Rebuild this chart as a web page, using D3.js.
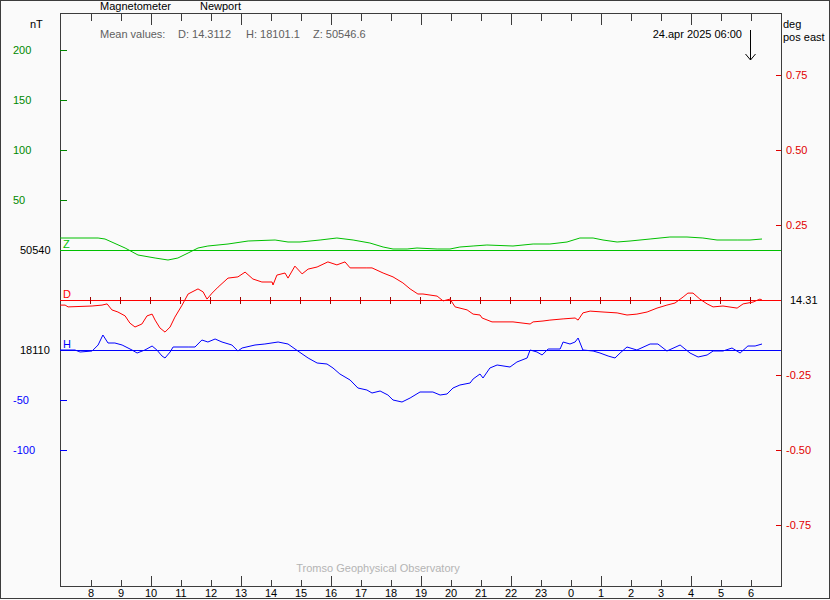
<!DOCTYPE html>
<html><head><meta charset="utf-8">
<script src="https://cdn.jsdelivr.net/npm/d3@7"></script>
<style>
html,body{margin:0;padding:0;background:#fafafa;}
svg{display:block;font-family:"Liberation Sans",Arial,sans-serif;font-size:11px;}
</style></head>
<body>
<svg id="chart" width="830" height="600"></svg>
<script>
// ---- data (hours since 00:00 on day 1; values > 24 are next day) ----
const hourTicks = [8,9,10,11,12,13,14,15,16,17,18,19,20,21,22,23,24,25,26,27,28,29,30];
const hourLabels = ["8","9","10","11","12","13","14","15","16","17","18","19","20","21","22","23","0","1","2","3","4","5","6"];
const longTickHours = [10,13,16,19,22,25,28];

const zBase = 50540, hBase = 18110, dBase = 14.31;
const nTTicksZ = [50, 100, 150, 200];
const nTTicksH = [-50, -100];
const degTicks = [0.75, 0.50, 0.25, -0.25, -0.50, -0.75];
const degLabels = ["0.75","0.50","0.25","-0.25","-0.50","-0.75"];

const zTimes = [7.0,8.27,8.5,9.17,9.6,10.17,10.6,10.93,11.27,11.6,11.93,12.6,13.27,14.17,14.6,15.0,15.67,16.23,16.77,17.33,17.77,18.1,18.57,18.9,19.57,20.0,20.33,20.77,21.23,22.1,22.77,23.33,23.9,24.33,24.77,25.1,25.57,26.0,26.67,27.33,27.9,28.43,28.9,29.57,30.0,30.4];
const zValues = [50552,50552,50551,50542,50535,50532,50530,50532,50537,50542,50544,50546,50549,50550,50548,50548,50550,50552,50550,50547,50543,50541,50541,50542,50541,50541,50543,50544,50545,50544,50546,50546,50548,50552,50552,50550,50548,50549,50551,50553,50553,50552,50550,50550,50550,50551];

const dTimes = [7.0,7.17,7.27,8.07,8.4,8.57,8.73,8.93,9.17,9.33,9.5,9.73,9.9,10.07,10.17,10.33,10.5,10.67,10.83,11.07,11.27,11.6,11.77,11.9,12.07,12.27,12.6,12.93,13.17,13.43,13.73,14.07,14.1,14.23,14.5,14.6,14.83,15.07,15.27,15.57,15.93,16.23,16.5,16.67,17.23,17.4,17.77,18.1,18.43,18.67,18.93,19.1,19.57,19.77,20.0,20.17,20.57,20.77,21.0,21.07,21.4,22.1,22.67,22.77,23.1,23.33,23.77,24.17,24.27,24.43,24.67,25.1,25.57,25.9,26.23,26.57,26.9,27.23,27.5,27.77,27.93,28.1,28.33,28.57,28.77,29.1,29.57,29.77,30.1,30.33,30.4];
const dValues = [14.293,14.293,14.287,14.290,14.293,14.297,14.277,14.270,14.257,14.233,14.220,14.230,14.257,14.263,14.243,14.217,14.203,14.220,14.253,14.293,14.330,14.347,14.337,14.313,14.333,14.353,14.383,14.387,14.403,14.380,14.370,14.370,14.360,14.393,14.400,14.383,14.423,14.397,14.413,14.420,14.437,14.427,14.437,14.417,14.417,14.417,14.400,14.387,14.367,14.347,14.330,14.330,14.323,14.307,14.313,14.287,14.277,14.263,14.260,14.250,14.237,14.237,14.230,14.237,14.240,14.243,14.247,14.250,14.243,14.267,14.273,14.270,14.267,14.260,14.263,14.270,14.283,14.293,14.300,14.320,14.333,14.333,14.313,14.297,14.287,14.290,14.283,14.297,14.303,14.313,14.310];

const hTimes = [7.0,7.5,7.67,8.07,8.27,8.43,8.6,8.83,9.07,9.4,9.57,9.83,10.07,10.23,10.4,10.5,10.67,10.77,11.27,11.5,11.73,11.93,12.17,12.4,12.73,12.93,13.07,13.5,13.83,14.27,14.6,14.93,15.27,15.57,15.9,16.1,16.33,16.67,16.93,17.23,17.4,17.67,17.93,18.1,18.4,18.67,19.0,19.43,19.67,19.9,20.1,20.33,20.67,20.77,21.0,21.1,21.33,21.57,22.0,22.23,22.57,22.67,22.9,23.07,23.27,23.67,23.77,24.0,24.17,24.27,24.43,24.77,25.0,25.27,25.5,25.67,25.9,26.23,26.67,26.93,27.23,27.67,28.0,28.27,28.57,28.77,29.1,29.4,29.67,29.93,30.17,30.4];
const hValues = [18110,18110,18108,18109,18115,18125,18117,18117,18115,18110,18107,18110,18114,18110,18104,18102,18108,18113,18113,18113,18120,18118,18121,18118,18115,18109,18112,18115,18116,18118,18116,18109,18102,18097,18096,18092,18086,18080,18072,18070,18067,18069,18065,18060,18058,18062,18068,18068,18065,18066,18072,18075,18077,18081,18086,18082,18092,18095,18093,18098,18102,18110,18108,18105,18111,18111,18118,18116,18118,18122,18110,18109,18107,18104,18102,18107,18113,18110,18116,18116,18109,18115,18107,18103,18105,18109,18109,18112,18107,18114,18114,18116];

// ---- layout ----
const svg = d3.select("#chart");
const L = 60, R = 780, T = 13, B = 586;
const x = d3.scaleLinear().domain([7, 31]).range([L, R]);
const yZ = d3.scaleLinear().domain([zBase, zBase + 200]).range([250, 50]);
const yH = d3.scaleLinear().domain([hBase, hBase - 100]).range([350, 450]);
const yD = d3.scaleLinear().domain([dBase, dBase + 0.75]).range([300, 75]);

const frameCol = "#3c3c3c";
const green = "#00c000", greenLab = "#008800";
const red = "#ff0000", redLab = "#e00000";
const blue = "#0000ff";

svg.append("rect").attr("x",0.5).attr("y",0.5).attr("width",829).attr("height",598)
  .attr("fill","#fafafa").attr("stroke",frameCol);

// plot frame
svg.append("path").attr("d",`M${L+0.5},${T+0.5}H${R+1.5}V${B+0.5}H${L+0.5}Z`)
  .attr("fill","none").attr("stroke",frameCol).attr("shape-rendering","crispEdges");

// bottom axis
const bAxis = d3.axisBottom(x).tickValues(hourTicks).tickSizeInner(-7).tickSizeOuter(0).tickPadding(3)
  .tickFormat((d,i)=>hourLabels[i]);
const bg = svg.append("g").attr("transform",`translate(0.5,${B+0.5})`).call(bAxis);
bg.select(".domain").remove();
bg.selectAll(".tick line").attr("stroke",frameCol).attr("shape-rendering","crispEdges")
  .attr("y2", d => longTickHours.includes(d) ? -11 : -7);
bg.selectAll(".tick text").attr("fill","#000").attr("font-size","11px")
  .attr("font-family","Liberation Sans, Arial, sans-serif").attr("dy","0.71em");

// top axis
const tAxis = d3.axisTop(x).tickValues(hourTicks).tickSizeInner(-7).tickSizeOuter(0).tickFormat("");
const tg = svg.append("g").attr("transform",`translate(0.5,${T+0.5})`).call(tAxis);
tg.select(".domain").remove();
tg.selectAll(".tick line").attr("stroke",frameCol).attr("shape-rendering","crispEdges")
  .attr("y2", d => longTickHours.includes(d) ? 11 : 7);

// baselines
function hline(y, col){
  svg.append("line").attr("x1",L).attr("x2",R+1).attr("y1",Math.round(y)+0.5).attr("y2",Math.round(y)+0.5)
    .attr("stroke",col).attr("shape-rendering","crispEdges");
}
hline(yZ(zBase), green);
hline(yD(dBase), red);
hline(yH(hBase), blue);

// D baseline hour ticks
svg.append("g").selectAll("line").data(hourTicks).join("line")
  .attr("x1",d=>Math.round(x(d))+0.5).attr("x2",d=>Math.round(x(d))+0.5)
  .attr("y1",yD(dBase)-3).attr("y2",yD(dBase)+4)
  .attr("stroke","#a00000").attr("shape-rendering","crispEdges");

// left axis ticks + labels
const leftTicks = nTTicksZ.map(v=>({y:yZ(zBase+v), t:String(v), c:greenLab}))
  .concat(nTTicksH.map(v=>({y:yH(hBase+v), t:String(v), c:blue})));
const lg = svg.append("g");
lg.selectAll("line").data(leftTicks).join("line")
  .attr("x1",L).attr("x2",L+7).attr("y1",d=>Math.round(d.y)+0.5).attr("y2",d=>Math.round(d.y)+0.5)
  .attr("stroke",d=>d.c).attr("shape-rendering","crispEdges");
lg.selectAll("text").data(leftTicks).join("text")
  .attr("x",13).attr("y",d=>d.y+4).attr("fill",d=>d.c).text(d=>d.t);
svg.append("text").attr("x",20).attr("y",yZ(zBase)+4).attr("fill","#000").text(String(zBase));
svg.append("text").attr("x",20).attr("y",yH(hBase)+4).attr("fill","#000").text(String(hBase));

// right axis ticks + labels
const rg = svg.append("g");
rg.selectAll("line").data(degTicks).join("line")
  .attr("x1",R-4).attr("x2",R+1).attr("y1",d=>Math.round(yD(dBase+d))+0.5).attr("y2",d=>Math.round(yD(dBase+d))+0.5)
  .attr("stroke",redLab).attr("shape-rendering","crispEdges");
rg.selectAll("text").data(degTicks).join("text")
  .attr("x",786).attr("y",d=>yD(dBase+d)+4).attr("fill",redLab).text((d,i)=>degLabels[i]);
svg.append("text").attr("x",790).attr("y",yD(dBase)+4).attr("fill","#000").text(dBase.toFixed(2));

// curves
const line = (ys)=> d3.line().x(d=>x(d[0])).y(d=>ys(d[1])).curve(d3.curveLinear);
svg.append("path").datum(d3.zip(zTimes,zValues)).attr("d",line(yZ)).attr("fill","none").attr("stroke",green).attr("stroke-width",1);
svg.append("path").datum(d3.zip(dTimes,dValues)).attr("d",line(yD)).attr("fill","none").attr("stroke",red).attr("stroke-width",1);
svg.append("path").datum(d3.zip(hTimes,hValues)).attr("d",line(yH)).attr("fill","none").attr("stroke",blue).attr("stroke-width",1);

// curve letters
svg.append("text").attr("x",63).attr("y",yZ(zBase)-2).attr("fill",green).text("Z");
svg.append("text").attr("x",63).attr("y",yD(dBase)-2).attr("fill",red).text("D");
svg.append("text").attr("x",63).attr("y",yH(hBase)-2).attr("fill",blue).text("H");

// header texts
svg.append("text").attr("x",100).attr("y",10).attr("fill","#000").text("Magnetometer");
svg.append("text").attr("x",200).attr("y",10).attr("fill","#000").text("Newport");
svg.append("text").attr("x",30).attr("y",28).attr("fill","#000").text("nT");
const mg = svg.append("g").attr("fill","#606060");
mg.append("text").attr("x",100).attr("y",38).text("Mean values:");
mg.append("text").attr("x",178).attr("y",38).text("D: 14.3112");
mg.append("text").attr("x",246).attr("y",38).text("H: 18101.1");
mg.append("text").attr("x",313).attr("y",38).text("Z: 50546.6");
svg.append("text").attr("x",742).attr("y",38).attr("text-anchor","end").attr("fill","#000").text("24.apr 2025 06:00");
svg.append("text").attr("x",783).attr("y",28).attr("fill","#000").text("deg");
svg.append("text").attr("x",783).attr("y",41).attr("fill","#000").text("pos east");

// arrow at current time
const ax = Math.round(x(30))+0.5;
svg.append("path").attr("d",`M${ax},30V60M${ax-5},54L${ax},60L${ax+5},54`)
  .attr("fill","none").attr("stroke","#000");

svg.append("text").attr("x",378).attr("y",572).attr("text-anchor","middle").attr("fill","#b4b4b4")
  .text("Tromso Geophysical Observatory");
</script>
</body></html>
